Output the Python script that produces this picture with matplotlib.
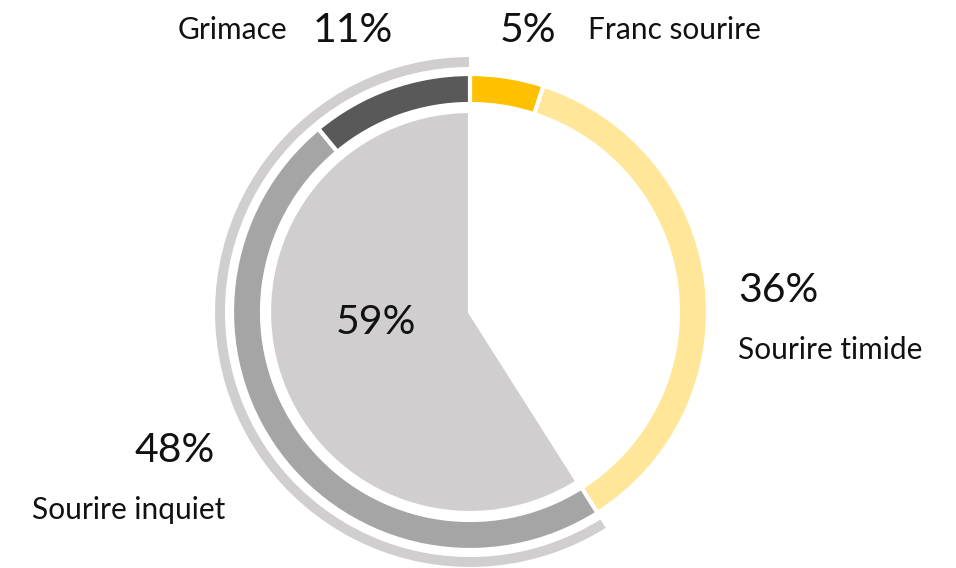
import matplotlib
matplotlib.use("Agg")
import matplotlib.pyplot as plt

# ring categories (clockwise from 12 o'clock)
labels = ["Franc sourire", "Sourire timide", "Sourire inquiet", "Grimace"]
values = [5, 36, 48, 11]
ring_colors = ["#FFC000", "#FFE699", "#A5A5A5", "#595959"]

# inner pie / outer arc: share of "not smiling"
inner_values = [41, 59]
inner_colors = ["white", "#D0CECE"]

plt.rcParams["font.family"] = ["Lato", "DejaVu Sans"]

W, H = 956, 568
fig = plt.figure(figsize=(W / 100, H / 100), dpi=100)
ax = fig.add_axes([0, 0, 1, 1])

cx, cy = 470, H - 312

# outer thin arc
outer, _ = ax.pie(inner_values, colors=inner_colors, startangle=90, counterclock=False,
                  radius=256, center=(cx, cy),
                  wedgeprops=dict(width=12, edgecolor="white", linewidth=1.5))
outer[0].set_visible(False)

# main ring
ax.pie(values, colors=ring_colors, startangle=90, counterclock=False,
       radius=238, center=(cx, cy),
       wedgeprops=dict(width=30, edgecolor="white", linewidth=3))

# inner pie
ax.pie(inner_values, colors=inner_colors, startangle=90, counterclock=False,
       radius=201, center=(cx, cy),
       wedgeprops=dict(edgecolor="white", linewidth=3))

ax.set_xlim(0, W)
ax.set_ylim(0, H)
ax.set_aspect("equal")
ax.axis("off")

pct = ["%d%%" % v for v in values]
big = dict(fontsize=29.5, color="#111111", va="center")
small = dict(fontsize=21.5, color="#111111", va="center")

ax.text(287, H - 30, labels[3], ha="right", **small)
ax.text(313, H - 30, pct[3], ha="left", **big)
ax.text(500, H - 30, pct[0], ha="left", **big)
ax.text(588, H - 30, labels[0], ha="left", **small)
ax.text(738, H - 290, pct[1], ha="left", **big)
ax.text(738, H - 350, labels[1], ha="left", **small)
ax.text(215, H - 450, pct[2], ha="right", **big)
ax.text(225, H - 510, labels[2], ha="right", **small)
ax.text(376, H - 322, "%d%%" % inner_values[1], ha="center", **big)

fig.savefig("out.png", dpi=100)
